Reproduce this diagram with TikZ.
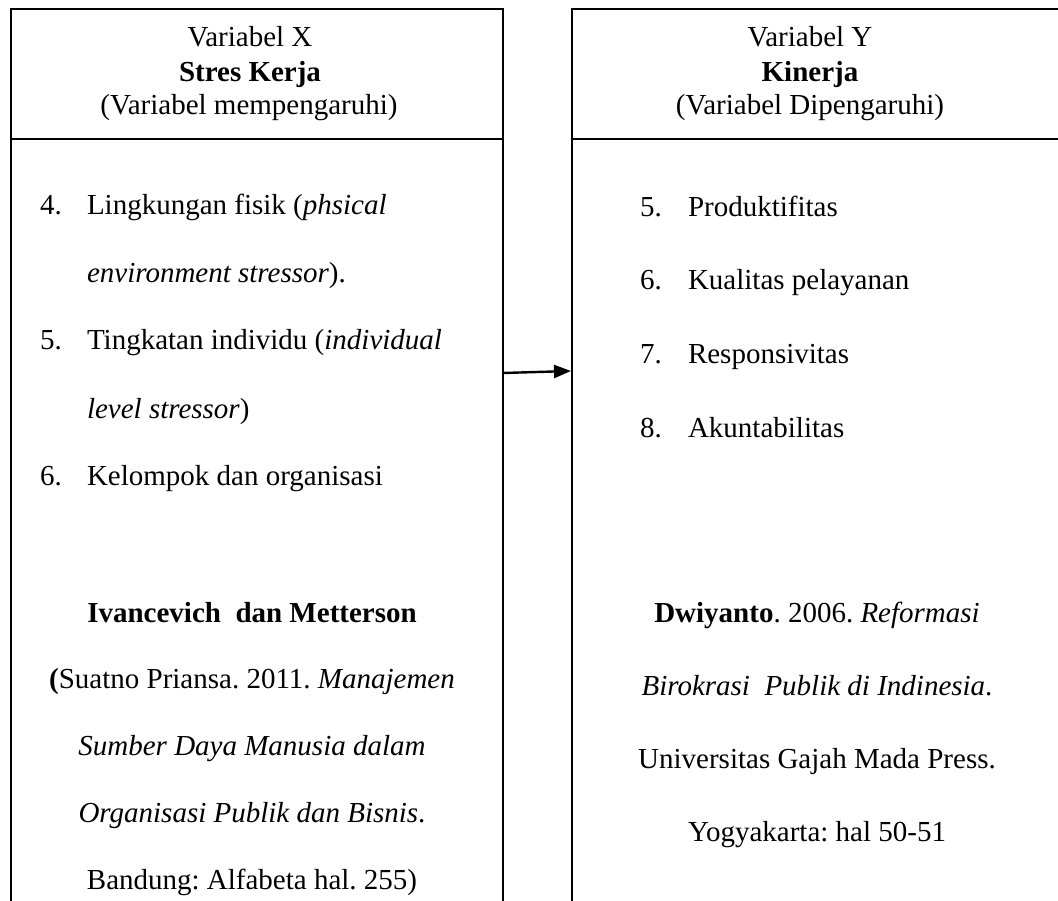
\documentclass[tikz,border=0pt]{standalone}
\usepackage{fontspec}
\setmainfont{Liberation Serif}
\usetikzlibrary{arrows.meta}
\frenchspacing
\begin{document}
\begin{tikzpicture}[x=1pt,y=-1pt,
  frame/.style={line width=2.4pt, line join=miter},
  txt/.style={inner sep=0pt, outer sep=0pt, font=\fontsize{29}{34}\selectfont},
  ctr/.style={txt, anchor=base},
  lft/.style={txt, anchor=base west},
  link/.style={line width=2.4pt, -{Triangle[length=17pt,width=13pt]}}]
\useasboundingbox (0,0) rectangle (1058,901);
% left box (open at bottom)
\draw[frame] (11,905) -- (11,9) -- (503,9) -- (503,905);
\draw[frame] (11,139) -- (503,139);
% right box (open at bottom and right)
\draw[frame] (572,905) -- (572,9) -- (1062,9);
\draw[frame] (572,139) -- (1062,139);
% left header
\node[ctr] (xh1) at (250,47) {Variabel X};
\node[ctr] (xh2) at (250,82) {\textbf{Stres Kerja}};
\node[ctr] (xh3) at (249,115) {(Variabel mempengaruhi)};
% right header
\node[ctr] (yh1) at (810,47) {Variabel Y};
\node[ctr] (yh2) at (810,82) {\textbf{Kinerja}};
\node[ctr] (yh3) at (810,115) {(Variabel Dipengaruhi)};
% left list
\node[lft] (xn4) at (40,215) {4.};
\node[lft] (xi4a) at (87,215) {Lingkungan fisik (\textit{phsical}};
\node[lft] (xi4b) at (87,283) {\textit{environment stressor}).};
\node[lft] (xn5) at (40,350) {5.};
\node[lft] (xi5a) at (87,350) {Tingkatan individu (\textit{individual}};
\node[lft] (xi5b) at (87,418) {\textit{level stressor})};
\node[lft] (xn6) at (40,485) {6.};
\node[lft] (xi6) at (87,485) {Kelompok dan organisasi};
% left reference
\node[ctr] (xr1) at (252,622) {\textbf{Ivancevich\ \ dan Metterson}};
\node[ctr] (xr2) at (252,688) {\textbf{(}Suatno Priansa. 2011. \textit{Manajemen}};
\node[ctr] (xr3) at (252,755) {\textit{Sumber Daya Manusia dalam}};
\node[ctr] (xr4) at (252,822) {\textit{Organisasi Publik dan Bisnis}.};
\node[ctr] (xr5) at (252,889) {Bandung: Alfabeta hal. 255)};
% right list
\node[lft] (yn5) at (640,217) {5.};
\node[lft] (yi5) at (688,217) {Produktifitas};
\node[lft] (yn6) at (640,290) {6.};
\node[lft] (yi6) at (688,290) {Kualitas pelayanan};
\node[lft] (yn7) at (640,363) {7.};
\node[lft] (yi7) at (688,363) {Responsivitas};
\node[lft] (yn8) at (640,437) {8.};
\node[lft] (yi8) at (688,437) {Akuntabilitas};
% right reference
\node[ctr] (yr1) at (817,622) {\textbf{Dwiyanto}. 2006. \textit{Reformasi}};
\node[ctr] (yr2) at (817,695) {\textit{Birokrasi\ \ Publik di Indinesia}.};
\node[ctr] (yr3) at (817,768) {Universitas Gajah Mada Press.};
\node[ctr] (yr4) at (817,841) {Yogyakarta: hal 50-51};
% connector
\coordinate (xout) at (503,373);
\coordinate (yin) at (571,371);
\draw[link] (xout) -- (yin);
\end{tikzpicture}
\end{document}
